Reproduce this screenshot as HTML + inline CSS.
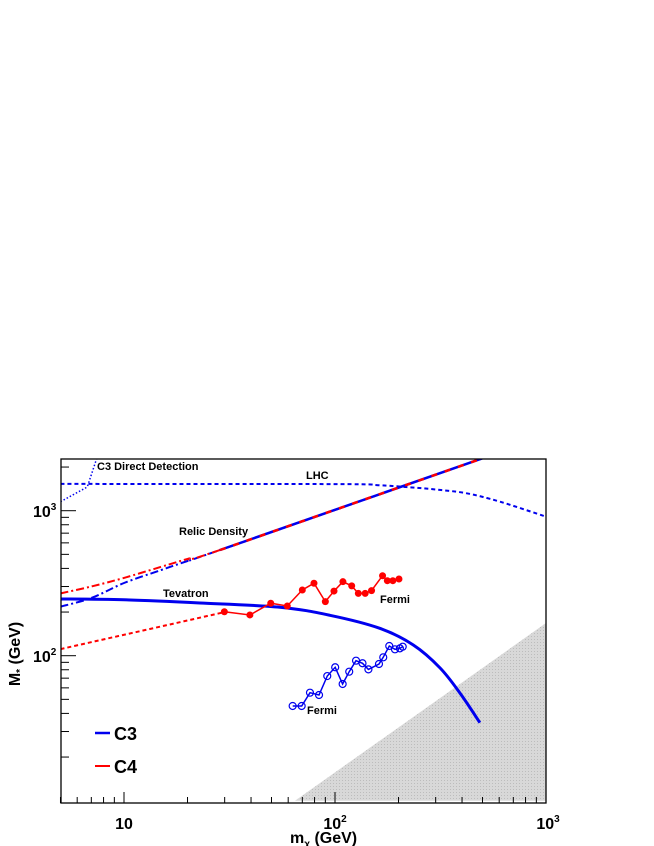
<!DOCTYPE html>
<html><head><meta charset="utf-8"><style>
body{margin:0;background:#fff;width:654px;height:846px;overflow:hidden}
svg{display:block;font-family:"Liberation Sans",Arial,sans-serif;font-weight:bold}
</style></head><body>
<svg id="c" width="654" height="846" viewBox="0 0 654 846">
<defs><pattern id="hatch" width="3" height="3" patternUnits="userSpaceOnUse"><rect width="3" height="3" fill="#d8d8d8"/><rect width="1" height="1" fill="#bcbcbc"/></pattern></defs>
</svg>
<script>
const tevX=[5,10,22.9,54.8,94.6,163,235,315,391,486];
const tevY=[246,243,231,216,190,154.5,118.6,82.2,55.3,34.5];
const c4TevX=[5,30];
const c4TevY=[111,200];
const c4FermiX=[29.9,39.5,49.6,59.4,70,79.5,90,98.9,109,120,129,139,149,168,177,188,201];
const c4FermiY=[201,191,230,220,284,316,236,279,324,303,269,269,281,356,329,329,338];
const c3FermiX=[63,69.5,76.1,84,91.9,100.2,108.7,116.8,125.8,135,144,161.6,169.3,180.8,192.4,203,209.4];
const c3FermiY=[45,45,55.6,53.6,72.4,83.2,63.8,77.6,92.4,88.7,80.5,87.7,97.5,116.7,110.7,112.4,115.4];
const relicC3X=[5,7,10,15,20,28.5,502];
const relicC3Y=[218,250,317,390,450,536,2300];
const relicC4X=[5,7,10,15,20,28.5,502];
const relicC4Y=[269,300,344,410,465,536,2300];
const lhcX=[5,100,160,226,300,421,605,1000];
const lhcY=[1530,1525,1500,1450,1400,1318,1153,910];
const ddX=[5,6.53,6.7,7.43];
const ddY=[1153,1427,1460,2300];
const exclX=[64.6,1000,1000];
const exclY=[10,168,10];

const L=61,R=546,T=459,B=803;
const sx=v=>124+211*(Math.log10(v)-1);
const sy=v=>510.7-145*(Math.log10(v)-3);
const svg=document.getElementById('c');
const NS='http://www.w3.org/2000/svg';
function mk(t,a,p){const e=document.createElementNS(NS,t);for(const k in a)e.setAttribute(k,a[k]);(p||svg).appendChild(e);return e;}
const clip=mk('clipPath',{id:'cl'});mk('rect',{x:L,y:T,width:R-L,height:B-T},clip);
const g=mk('g',{'clip-path':'url(#cl)'});
function pts(X,Y){return X.map((x,i)=>sx(x).toFixed(1)+','+sy(Y[i]).toFixed(1)).join(' ');}
function smooth(X,Y){const P=X.map((x,i)=>[sx(x),sy(Y[i])]);let d='M'+P[0][0].toFixed(1)+','+P[0][1].toFixed(1);
for(let i=0;i<P.length-1;i++){const p0=P[Math.max(0,i-1)],p1=P[i],p2=P[i+1],p3=P[Math.min(P.length-1,i+2)];
const c1=[p1[0]+(p2[0]-p0[0])/6,p1[1]+(p2[1]-p0[1])/6],c2=[p2[0]-(p3[0]-p1[0])/6,p2[1]-(p3[1]-p1[1])/6];
d+=' C'+c1.map(v=>v.toFixed(1)).join(',')+' '+c2.map(v=>v.toFixed(1)).join(',')+' '+p2[0].toFixed(1)+','+p2[1].toFixed(1);}return d;}
function line(X,Y,col,w,dash,name,sm){const e=sm?mk('path',{d:smooth(X,Y),fill:'none',stroke:col,'stroke-width':w},g):mk('polyline',{points:pts(X,Y),fill:'none',stroke:col,'stroke-width':w},g);if(dash)e.setAttribute('stroke-dasharray',dash);

return e;}
const ex=mk('polygon',{points:pts(exclX,exclY),fill:'url(#hatch)'},g);


line(lhcX,lhcY,'#0000ee',2,'4,3','lhc-curve',true);
line(ddX,ddY,'#0000ee',1.5,'1.5,2','c3-direct-detection-curve');
line(relicC3X,relicC3Y,'#0000ee',2,'8,3,2,3','c3-relic-density-curve',true);
line(relicC4X,relicC4Y,'#ff0000',2,'8,3,2,3','c4-relic-density-curve',true);
line(relicC3X.slice(5),relicC3Y.slice(5),'#0000ee',2.5,null,'relic-density-blue-base');
line(relicC4X.slice(5),relicC4Y.slice(5),'#ff0000',2.5,'6,8','relic-density-red-overlay');
line(c4TevX,c4TevY,'#ff0000',2,'4,3','c4-tevatron-curve');
line(tevX,tevY,'#0000ee',3,null,'c3-tevatron-curve',true);
line(c4FermiX,c4FermiY,'#ff0000',1.5,null,'c4-fermi-line');
c4FermiX.forEach((x,i)=>{const e=mk('circle',{cx:sx(x),cy:sy(c4FermiY[i]),r:3.5,fill:'#ff0000'},g);

});
line(c3FermiX,c3FermiY,'#0000ee',1.5,null,'c3-fermi-line');
c3FermiX.forEach((x,i)=>{const e=mk('circle',{cx:sx(x),cy:sy(c3FermiY[i]),r:3.5,fill:'none',stroke:'#0000ee','stroke-width':1.2},g);

});
const fr=mk('rect',{x:L,y:T,width:R-L,height:B-T,fill:'none',stroke:'#000','stroke-width':1.3});


for(let d=1;d<=1000;d*=10)for(let m=1;m<10;m++){const v=d*m;if(v<5||v>1000)continue;const x=sx(v);const len=m==1?11:6;mk('line',{x1:x,x2:x,y1:B,y2:B-len,stroke:'#000','stroke-width':1});}
for(let d=10;d<=1000;d*=10)for(let m=1;m<10;m++){const v=d*m;if(v<=10||v>2300)continue;const y=sy(v);const len=m==1?15:8;mk('line',{x1:L,x2:L+len,y1:y,y2:y,stroke:'#000','stroke-width':1});}
function txt(s,x,y,size,name,anchor){const e=mk('text',{x:x,y:y,'font-size':size,fill:'#000'});if(anchor)e.setAttribute('text-anchor',anchor);e.innerHTML=s;

return e;}
txt('10',124,829,16,'x-tick-10','middle');
txt('10<tspan font-size="10" dy="-7">2</tspan>',335,829,16,'x-tick-100','middle');
txt('10<tspan font-size="10" dy="-7">3</tspan>',548,829,16,'x-tick-1000','middle');
txt('10<tspan font-size="10" dy="-7">3</tspan>',33,517,16,'y-tick-1000');
txt('10<tspan font-size="10" dy="-7">2</tspan>',33,662,16,'y-tick-100');
txt('m<tspan font-size="10" dy="4">χ</tspan><tspan dy="-4"> (GeV)</tspan>',290,843,16,'x-axis-title');
const yt=txt('M<tspan font-size="10" dy="3">*</tspan><tspan dy="-3"> (GeV)</tspan>',0,0,16,'y-axis-title','middle');
yt.setAttribute('transform','translate(20,654) rotate(-90)');
txt('C3 Direct Detection',97,470,11,'direct-detection-label');
txt('LHC',306,479,11,'lhc-label');
txt('Relic Density',179,535,11,'relic-density-label');
txt('Tevatron',163,597,11,'tevatron-label');
txt('Fermi',380,603,11,'c4-fermi-label');
txt('Fermi',307,714,11,'c3-fermi-label');
const l1=mk('line',{x1:95,x2:110,y1:733,y2:733,stroke:'#0000ee','stroke-width':2.5});


txt('C3',114,740,18,'legend-c3');
const l2=mk('line',{x1:95,x2:110,y1:766,y2:766,stroke:'#ff0000','stroke-width':2});


txt('C4',114,773,18,'legend-c4');
</script>
</body></html>
